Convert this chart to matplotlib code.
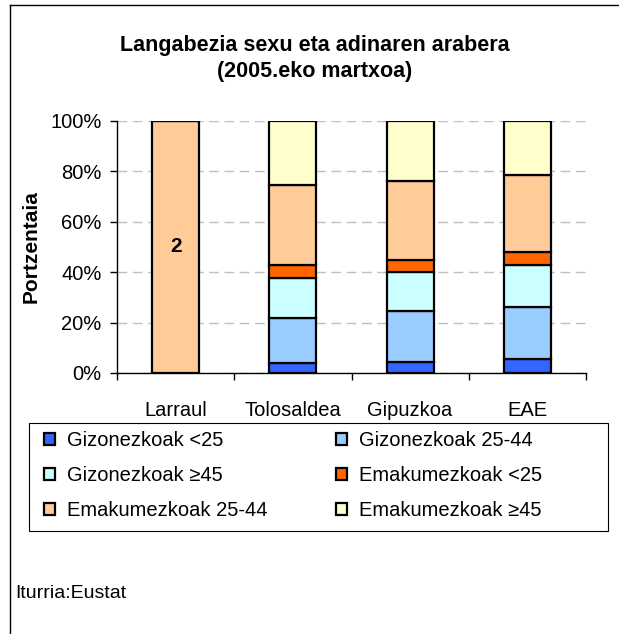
import matplotlib
matplotlib.use('Agg')
import matplotlib.pyplot as plt
import numpy as np
from matplotlib.patches import Rectangle
from matplotlib.lines import Line2D

plt.rcParams['font.family'] = ['Liberation Sans', 'DejaVu Sans']

categories = ['Larraul', 'Tolosaldea', 'Gipuzkoa', 'EAE']
series_names = ['Gizonezkoak <25', 'Gizonezkoak 25-44', 'Gizonezkoak ≥45',
                'Emakumezkoak <25', 'Emakumezkoak 25-44', 'Emakumezkoak ≥45']
# percent per category, one list per series
giz_25 = [0, 3.8, 4.5, 5.4]
giz_25_44 = [0, 17.9, 20.2, 20.7]
giz_45 = [0, 15.9, 15.2, 16.8]
ema_25 = [0, 5.3, 4.9, 5.0]
ema_25_44 = [100, 31.7, 31.4, 30.7]
ema_45 = [0, 25.4, 23.8, 21.4]
larraul_label = '2'
colors = ['#3366FF', '#99CCFF', '#CCFFFF', '#FF6600', '#FFCC99', '#FFFFCC']

W, H = 619, 634
fig = plt.figure(figsize=(W / 100, H / 100), dpi=100)
ax = fig.add_axes([117 / W, 1 - 373 / H, (586 - 117) / W, (373 - 121) / H])

x = np.arange(len(categories))
bottom = np.zeros(len(categories))
handles = []
for vals, name, c in zip([giz_25, giz_25_44, giz_45, ema_25, ema_25_44, ema_45],
                         series_names, colors):
    vals = np.array(vals, dtype=float)
    ax.bar(x, vals, 0.4, bottom=bottom, color=c, edgecolor='black',
           linewidth=1.6, zorder=3)
    handles.append(Rectangle((0, 0), 1, 1, facecolor=c, edgecolor='black', linewidth=1.6))
    bottom += vals

# data label in Larraul bar
ax.text(x[0], ema_25_44[0] / 2, larraul_label, ha='center', va='center',
        fontsize=15, fontweight='bold', zorder=4)

ax.set_xlim(-0.5, len(categories) - 0.5)
ax.set_ylim(0, 100)
ax.set_yticks(np.arange(0, 101, 20))
ax.set_yticklabels([f'{v}%' for v in range(0, 101, 20)])
ax.set_xticks(x)
ax.set_xticklabels(categories)
ax.set_xticks(np.arange(-0.5, len(categories), 1), minor=True)
ax.tick_params(axis='x', which='major', length=0, pad=20, labelsize=14.5)
ax.tick_params(axis='x', which='minor', length=5, width=1, direction='out')
ax.tick_params(axis='y', length=5, width=1, pad=6, labelsize=14.5)

for s in ['top', 'right']:
    ax.spines[s].set_visible(False)
for s in ['left', 'bottom']:
    ax.spines[s].set_linewidth(1)
    ax.spines[s].set_zorder(5)

ax.yaxis.grid(True, color='#C0C0C0', linestyle=(0, (7, 4)), linewidth=1, zorder=0)
ax.set_axisbelow(True)

fig.text(315 / W, 1 - 45 / H, 'Langabezia sexu eta adinaren arabera',
         ha='center', va='center', fontsize=15.5, fontweight='bold')
fig.text(315 / W, 1 - 72 / H, '(2005.eko martxoa)',
         ha='center', va='center', fontsize=15.5, fontweight='bold')
fig.text(31 / W, 1 - 247 / H, 'Portzentaia', rotation=90,
         ha='center', va='center', fontsize=15, fontweight='bold')

# legend (row-wise order like the original)
order = [0, 2, 4, 1, 3, 5]
leg = fig.legend([handles[i] for i in order], [series_names[i] for i in order],
                 ncol=2, loc='upper left', bbox_to_anchor=(44 / W, 1 - 431 / H),
                 frameon=False, fontsize=14.5, handlelength=0.55, handleheight=0.55,
                 handletextpad=0.6, columnspacing=3.4, labelspacing=0.8,
                 borderpad=0, borderaxespad=0)
fig.patches.append(Rectangle((29 / W, 1 - 531 / H), (608 - 29) / W, (531 - 423) / H,
                             transform=fig.transFigure, fill=False,
                             edgecolor='black', linewidth=0.8))

fig.text(15 / W, 1 - 593 / H, 'Iturria:Eustat', ha='left', va='center', fontsize=14)

# outer frame (left and top)
fig.lines.append(Line2D([9.5 / W, 9.5 / W], [0, 1 - 4.5 / H], transform=fig.transFigure,
                        color='black', linewidth=1))
fig.lines.append(Line2D([9.5 / W, 1], [1 - 4.5 / H, 1 - 4.5 / H], transform=fig.transFigure,
                        color='black', linewidth=1))

fig.savefig('out.png', dpi=100)
